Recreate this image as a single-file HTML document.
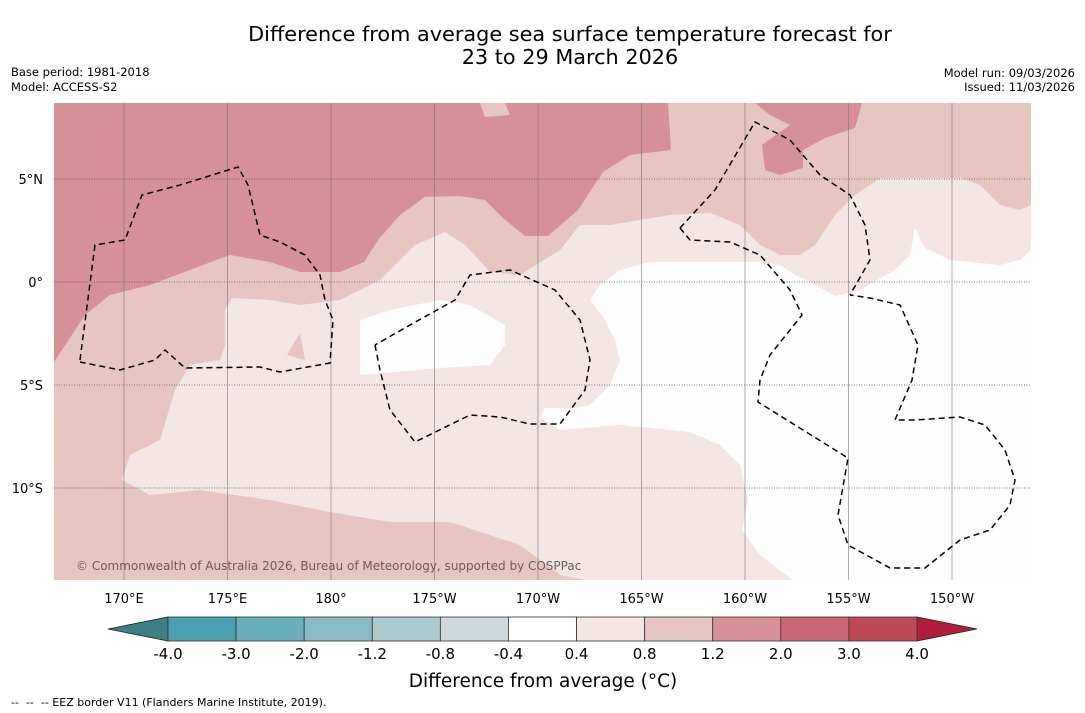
<!DOCTYPE html>
<html><head><meta charset="utf-8"><style>
body{margin:0;background:#fff;width:1085px;height:713px;overflow:hidden;font-family:"Liberation Sans","DejaVu Sans",sans-serif}
svg{display:block}
</style></head><body>
<svg id="s" width="1085" height="713" font-family="DejaVu Sans, Liberation Sans, sans-serif">
<text x="570" y="41" font-size="20.8" text-anchor="middle">Difference from average sea surface temperature forecast for</text>
<text x="570" y="64" font-size="20.8" text-anchor="middle">23 to 29 March 2026</text>
<text x="11" y="76" font-size="11.5">Base period: 1981-2018</text>
<text x="11" y="91" font-size="11.5">Model: ACCESS-S2</text>
<text x="1075" y="77" font-size="11.5" text-anchor="end">Model run: 09/03/2026</text>
<text x="1075" y="91" font-size="11.5" text-anchor="end">Issued: 11/03/2026</text>
<g id="map"></g>
<g id="cb"></g>
<text x="543" y="687" font-size="18.5" text-anchor="middle">Difference from average (°C)</text>
<text x="11" y="706" font-size="11">-- &#160;-- &#160;-- EEZ border V11 (Flanders Marine Institute, 2019).</text>
</svg>
<script>
const NS="http://www.w3.org/2000/svg";
const lonTicks=[170,175,180,185,190,195,200,205,210];
const lonLabels=["170°E","175°E","180°","175°W","170°W","165°W","160°W","155°W","150°W"];
const latTicks=[5,0,-5,-10];
const latLabels=["5°N","0°","5°S","10°S"];
const cbBounds=["-4.0","-3.0","-2.0","-1.2","-0.8","-0.4","0.4","0.8","1.2","2.0","3.0","4.0"];
const cbColors=["#4aa0b0","#6aaebb","#8abac4","#a9c9cc","#cfd8da","#ffffff","#f4e6e5","#e7c6c2","#d69098","#cb6873","#bf4857"];
const underColor="#3e7f86", overColor="#b01e3e";
const X0=124,LON0=170,SX=20.7,Y0=282,SY=20.6;
const px=x=>LON0+(x-X0)/SX, py=y=>(Y0-y)/SY;
const P=a=>{const r=[];for(let i=0;i<a.length;i+=2)r.push([px(a[i]),py(a[i+1])]);return r;};
const darkW=P([54,103,668,103,671,150,630,155,603,172,578,210,548,236,525,236,503,218,485,200,460,196,425,197,400,215,378,240,364,262,340,272,300,272,270,262,230,255,195,268,150,285,110,295,85,315,54,362]);
const darkE=P([755,103,862,103,855,128,825,138,803,150,803,168,780,175,765,170,762,145,790,125,770,115]);
const midBlob=P([480,103,505,103,510,115,485,117]);
const light=P([1031,205,1020,210,1000,205,980,185,960,178,880,178,855,195,835,215,815,245,800,255,780,255,760,245,740,225,710,213,670,215,640,220,610,225,580,225,560,250,520,275,490,272,465,245,445,232,415,245,380,280,340,300,300,305,270,300,232,298,225,310,225,345,220,360,190,365,175,390,160,440,130,455,122,480,150,495,200,490,270,500,330,512,390,522,450,522,520,545,560,575,595,582,1031,582]);
const white=P([1031,250,1020,260,1000,265,950,260,925,248,915,228,910,255,895,270,860,290,835,296,810,282,795,275,780,265,760,262,700,262,650,262,620,270,600,285,590,300,605,320,615,340,620,360,610,385,590,405,575,408,545,408,540,418,560,430,620,425,690,432,720,445,740,465,748,500,742,530,760,555,795,582,1031,582]);
const whiteIsland=P([360,320,390,310,440,300,470,305,505,325,505,345,490,365,440,368,360,375]);
const midSpeck=P([287,355,300,333,305,360]);
const eez1=P([80,360,95,245,125,240,142,195,180,185,238,167,248,185,260,235,280,242,305,255,320,275,325,300,333,320,330,363,280,372,260,367,185,368,165,350,155,360,120,370,80,362]);
const eez2=P([375,345,380,370,390,410,415,442,470,415,500,417,530,424,560,424,585,390,590,360,580,320,555,290,510,270,470,275,455,300,410,325,375,345]);
const eez3=P([680,228,715,190,755,122,790,140,820,175,850,195,865,225,870,260,850,295]);
const eez4=P([680,228,690,240,730,242,760,255,790,290,802,315,770,355,760,380,758,402,848,458,838,515,848,545,890,568,925,568,960,540,990,530,1010,505,1015,480,1005,450,985,425,960,417,915,420,895,420,912,380,918,345,900,305,870,298,850,295]);
const sx=l=>X0+(l-LON0)*SX, sy=l=>Y0-l*SY;
const map=document.getElementById('map');
function mk(t,a,p){const e=document.createElementNS(NS,t);for(const k in a)e.setAttribute(k,a[k]);(p||map).appendChild(e);return e;}
const clip=mk('clipPath',{id:'clp'});mk('rect',{x:54,y:103,width:977,height:477},clip);
const g=mk('g',{'clip-path':'url(#clp)'});
mk('rect',{x:54,y:103,width:977,height:477,fill:'#e7c6c2'},g);
function poly(pts,fill,name,dash){const d=pts.map(p=>sx(p[0]).toFixed(1)+','+sy(p[1]).toFixed(1)).join(' ');
 const e=mk(dash?'polyline':'polygon',{points:d,fill:dash?'none':fill,stroke:dash?'#000':'none','stroke-width':1.5,'stroke-dasharray':dash?'6,4':'none'},g);
 
 }
poly(darkW,'#d69098','contour-1p2-west');
poly(darkE,'#d69098','contour-1p2-east');
poly(midBlob,'#e7c6c2','contour-0p8-blob');
poly(light,'#f4e6e5','contour-0p4');
poly(white,'#fefefe','contour-neutral');
poly(whiteIsland,'#fefefe','contour-neutral-island');
poly(midSpeck,'#e7c6c2','contour-0p8-speck');
lonTicks.forEach((l,i)=>{const e=mk('line',{x1:sx(l),x2:sx(l),y1:103,y2:580,stroke:'#777','stroke-width':0.6},g);
 
 const t=mk('text',{x:sx(l),y:603,'font-size':13,'text-anchor':'middle'});t.textContent=lonLabels[i];
 });
latTicks.forEach((l,i)=>{const e=mk('line',{x1:54,x2:1031,y1:sy(l),y2:sy(l),stroke:'#555','stroke-width':0.7,'stroke-dasharray':'1,1.5'},g);
 
 const t=mk('text',{x:43,y:sy(l)+5,'font-size':13,'text-anchor':'end'});t.textContent=latLabels[i];
 });
poly(eez1,'','eez-border-kiribati-west',true);
poly(eez2,'','eez-border-phoenix',true);
poly(eez3,'','eez-border-line-north',true);
poly(eez4,'','eez-border-line-south',true);
const cr=mk('text',{x:76,y:570,'font-size':12,fill:'#6b5a5a'},g);cr.textContent="© Commonwealth of Australia 2026, Bureau of Meteorology, supported by COSPPac";

const cb=document.getElementById('cb');
const cx0=168,cx1=917,cy0=617,cy1=641,n=cbColors.length,bw=(cx1-cx0)/n;
const cbx=i=>cx0+i*bw;
const u=mk('polygon',{points:`${cx0},${cy0} ${cx0},${cy1} 108,${(cy0+cy1)/2}`,fill:underColor,stroke:'#222','stroke-width':0.8},cb);

const o=mk('polygon',{points:`${cx1},${cy0} ${cx1},${cy1} 977,${(cy0+cy1)/2}`,fill:overColor,stroke:'#222','stroke-width':0.8},cb);

cbColors.forEach((c,i)=>{const r=mk('rect',{x:cbx(i),y:cy0,width:bw,height:cy1-cy0,fill:c,stroke:'#333','stroke-width':0.8},cb);
 });
cbBounds.forEach((b,i)=>{const t=mk('text',{x:cbx(i),y:659,'font-size':15,'text-anchor':'middle'},cb);t.textContent=b;
 });
</script>
</body></html>
